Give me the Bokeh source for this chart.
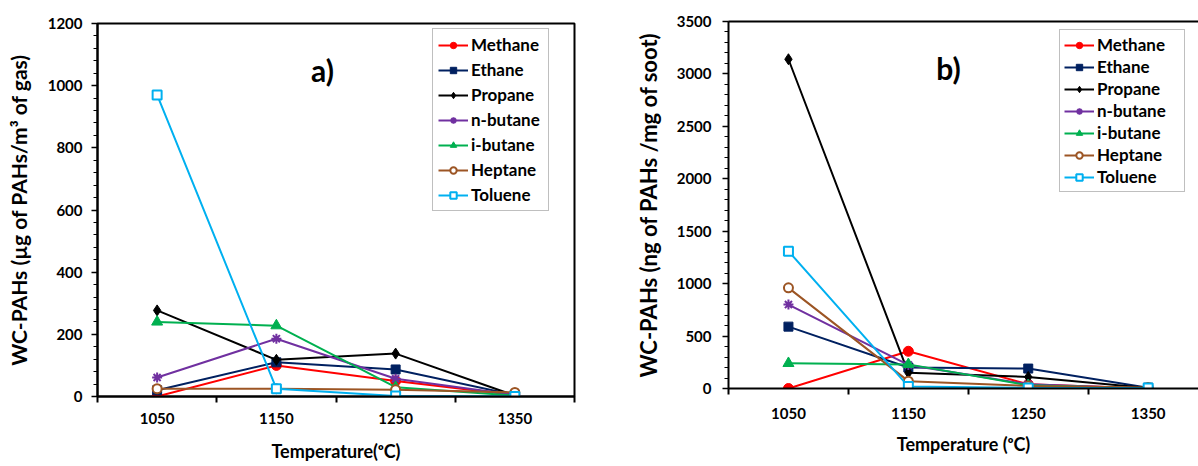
from bokeh.plotting import figure
from bokeh.layouts import row, column
from bokeh.models import (Range1d, FixedTicker, SingleIntervalTicker, Legend, LegendItem,
                          LinearAxis, Label)
from bokeh.embed import file_html
from bokeh.resources import INLINE

# ---------------- data ----------------
temperatures = [1050, 1150, 1250, 1350]
temperature_labels = ["1050", "1150", "1250", "1350"]
series_names = ["Methane", "Ethane", "Propane", "n-butane", "i-butane", "Heptane", "Toluene"]

# a) WC-PAHs (µg of PAHs / m3 of gas)
gas_methane = [0, 100, 50, 5]
gas_ethane = [20, 110, 87, 5]
gas_propane = [277, 118, 138, 3]
gas_nbutane = [61, 186, 57, 5]
gas_ibutane = [240, 228, 30, 3]
gas_heptane = [25, 25, 22, 13]
gas_toluene = [970, 25, 2, 0]

# b) WC-PAHs (ng of PAHs / mg of soot)
soot_methane = [0, 355, 40, 0]
soot_ethane = [590, 200, 190, 8]
soot_propane = [3140, 150, 110, 5]
soot_nbutane = [800, 225, 40, 0]
soot_ibutane = [240, 230, 30, 0]
soot_heptane = [960, 70, 25, 10]
soot_toluene = [1310, 20, 5, 5]

gas_values = [gas_methane, gas_ethane, gas_propane, gas_nbutane, gas_ibutane, gas_heptane, gas_toluene]
soot_values = [soot_methane, soot_ethane, soot_propane, soot_nbutane, soot_ibutane, soot_heptane, soot_toluene]

# ---------------- styles ----------------
colors = ["#FF0000", "#002060", "#000000", "#7030A0", "#00B050", "#9C5524", "#00B0F0"]
markers = ["circle", "square", "diamond", "asterisk", "triangle", "circle", "square"]
fills = ["#FF0000", "#002060", "#000000", "#7030A0", "#00B050", "white", "white"]
sizes = [10, 9, 11, 10, 11, 9, 9]
mwidths = [1, 1, 1, 2, 1, 2, 2]
FONT = "Lato"


def make_panel(values, ytitle, xtitle, yend, yinterval, xend, minor_x, width, height,
               mb_left, mb_right, mb_top, mb_bottom, legend_loc, legend_spacing,
               legend_padding, legend_label_width, tag, tag_pos, full_outline,
               ylab_standoff, ylabel_standoff, ytitle_size, xlab_standoff, xlabel_standoff):
    p = figure(width=width, height=height, output_backend="svg", toolbar_location=None,
               x_range=Range1d(1000, xend), y_range=Range1d(0, yend),
               min_border_left=mb_left, min_border_right=mb_right,
               min_border_top=mb_top, min_border_bottom=mb_bottom)
    p.grid.visible = False
    p.background_fill_color = "white"
    p.border_fill_color = "white"

    # x axis (bottom)
    xa = p.below[0]
    xa.ticker = FixedTicker(ticks=temperatures, minor_ticks=minor_x)
    xa.major_label_overrides = {t: l for t, l in zip(temperatures, temperature_labels)}
    xa.major_tick_line_color = None
    xa.minor_tick_line_color = "black"
    xa.minor_tick_line_width = 2
    xa.minor_tick_out = 6
    xa.minor_tick_in = 0
    xa.axis_line_width = 2
    xa.axis_line_color = "black"
    xa.major_label_text_font = FONT
    xa.major_label_text_font_style = "bold"
    xa.major_label_text_font_size = "15px"
    xa.major_label_text_color = "black"
    xa.major_label_standoff = xlab_standoff
    xa.axis_label = xtitle
    xa.axis_label_text_font = FONT
    xa.axis_label_text_font_style = "bold"
    xa.axis_label_text_font_size = "18px"
    xa.axis_label_text_color = "black"
    xa.axis_label_standoff = xlabel_standoff

    # y axis (left)
    ya = p.left[0]
    ya.ticker = SingleIntervalTicker(interval=yinterval, num_minor_ticks=5)
    ya.axis_line_width = 2
    ya.axis_line_color = "black"
    ya.major_tick_line_color = "black"
    ya.major_tick_line_width = 1.5
    ya.major_tick_out = 6
    ya.major_tick_in = 0
    ya.minor_tick_line_color = "black"
    ya.minor_tick_line_width = 1
    ya.minor_tick_out = 4
    ya.minor_tick_in = 0
    ya.major_label_text_font = FONT
    ya.major_label_text_font_style = "bold"
    ya.major_label_text_font_size = "15px"
    ya.major_label_text_color = "black"
    ya.major_label_standoff = ylab_standoff
    ya.axis_label = ytitle
    ya.axis_label_text_font = FONT
    ya.axis_label_text_font_style = "bold"
    ya.axis_label_text_font_size = ytitle_size
    ya.axis_label_text_color = "black"
    ya.axis_label_standoff = ylabel_standoff

    if full_outline:
        p.outline_line_color = "black"
        p.outline_line_width = 2
    else:
        p.outline_line_color = None
        top = LinearAxis(ticker=FixedTicker(ticks=[]), major_tick_line_color=None,
                         minor_tick_line_color=None, major_label_text_font_size="0px",
                         axis_line_width=2, axis_line_color="black")
        p.add_layout(top, "above")

    items = []
    for name, vals, c, m, f, s, w in zip(series_names, values, colors, markers, fills, sizes, mwidths):
        ln = p.line(temperatures, vals, line_color=c, line_width=2)
        sc = p.scatter(temperatures, vals, marker=m, size=s, line_color=c, fill_color=f,
                       line_width=w)
        items.append(LegendItem(label=name, renderers=[ln, sc]))

    legend = Legend(items=items, location=legend_loc, orientation="vertical",
                    label_text_font=FONT, label_text_font_style="bold",
                    label_text_font_size="17px", label_text_color="black",
                    glyph_width=30, glyph_height=16, label_height=16,
                    label_width=legend_label_width,
                    label_standoff=3, spacing=legend_spacing, padding=legend_padding, margin=0,
                    border_line_color="#808080", border_line_width=1,
                    background_fill_color="white", background_fill_alpha=1.0)
    p.add_layout(legend, "center")

    p.add_layout(Label(x=tag_pos[0], y=tag_pos[1], x_units="screen", y_units="screen",
                       text=tag, text_font=FONT, text_font_style="bold",
                       text_font_size="30px", text_align="center",
                       text_baseline="middle", text_color="black"))
    return p


p1 = make_panel(gas_values, "WC-PAHs (µg of PAHs/m³ of gas)", "Temperature(ᵒC)",
                1200, 200, 1400, [1000, 1100, 1200, 1300, 1400],
                width=620, height=466, mb_left=97, mb_right=46, mb_top=23, mb_bottom=70,
                legend_loc=(335, 185), legend_spacing=4, legend_padding=5,
                legend_label_width=72, tag="a)", tag_pos=(225, 327),
                full_outline=True, ylab_standoff=9, ylabel_standoff=14, ytitle_size="21px",
                xlab_standoff=10, xlabel_standoff=13)

p2 = make_panel(soot_values, "WC-PAHs (ng of PAHs /mg of soot)", "Temperature (ᵒC)",
                3500, 500, 1392, [1000, 1100, 1200, 1300],
                width=578, height=466, mb_left=108, mb_right=0, mb_top=21, mb_bottom=78,
                legend_loc=(331, 196), legend_spacing=1, legend_padding=4,
                legend_label_width=83, tag="b)", tag_pos=(220, 321),
                full_outline=False, ylab_standoff=11, ylabel_standoff=12, ytitle_size="22px",
                xlab_standoff=13, xlabel_standoff=11)

layout = row(column(p1), column(p2))
open("out.html", "w").write(file_html(layout, INLINE))
